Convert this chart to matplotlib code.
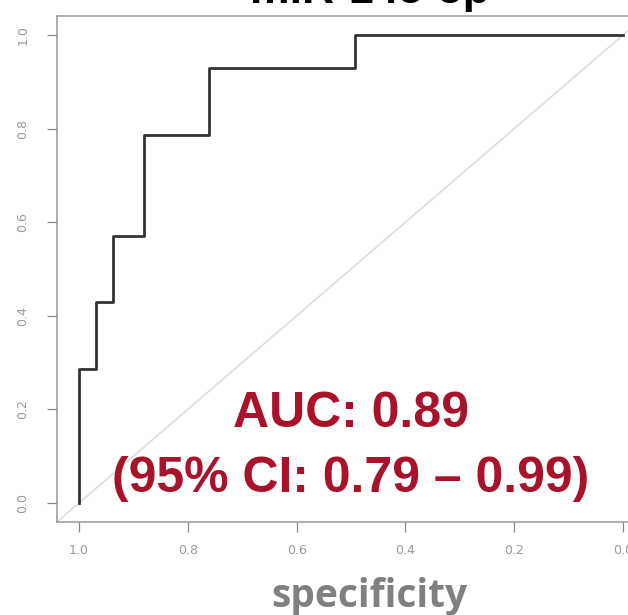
import matplotlib
matplotlib.use("Agg")
import matplotlib.pyplot as plt

# ROC curve vertices (steps-post)
specificity = [1.0, 1.0, 0.969, 0.938, 0.881, 0.761, 0.493, 0.0]
sensitivity = [0.0, 0.286, 0.429, 0.571, 0.786, 0.929, 1.0, 1.0]
tick_values = [0.0, 0.2, 0.4, 0.6, 0.8, 1.0]
tick_labels = ["0.0", "0.2", "0.4", "0.6", "0.8", "1.0"]

title = "miR-145-5p"
auc_text = "AUC: 0.89"
ci_text = "(95% CI: 0.79 \u2013 0.99)"
red = "#A8122A"

fig = plt.figure(figsize=(6.28, 6.15), dpi=100)
ax = fig.add_axes([0.0911, 0.1517, 0.9357, 0.8218])

ax.axline((1, 0), (0, 1), color="#dddddd", lw=1.2, zorder=1)
ax.plot(specificity, sensitivity, drawstyle="steps-post", color="#333333", lw=2.0, zorder=2)

ax.set_xlim(1.04, -0.04)
ax.set_ylim(-0.04, 1.04)
ax.set_xticks(tick_values)
ax.set_xticklabels(tick_labels)
ax.set_yticks(tick_values)
ax.set_yticklabels(tick_labels, rotation=90, va="center")
ax.tick_params(length=7, width=0.9, color="#888888", labelcolor="#999999", labelsize=9)
ax.tick_params(axis="x", pad=9)
ax.tick_params(axis="y", pad=13)
for side in ["left", "bottom", "top", "right"]:
    ax.spines[side].set_color("#999999")
    ax.spines[side].set_linewidth(1.1)

ax.text(0.5, 0.162, auc_text, ha="center", va="baseline", fontsize=36,
        fontweight="bold", color=red, family="Liberation Sans")
ax.text(0.5, 0.0235, ci_text, ha="center", va="baseline", fontsize=36,
        fontweight="bold", color=red, family="Liberation Sans")

fig.text(369 / 628, 1 - 607 / 615, "specificity", ha="center", va="baseline",
         fontsize=28, fontweight="bold", color="#808080", family="Open Sans")
fig.text(370 / 628, 1 - 3 / 615, title, ha="center", va="baseline",
         fontsize=32, fontweight="bold", color="black", family="Liberation Sans")

fig.savefig("out.png", dpi=100)
